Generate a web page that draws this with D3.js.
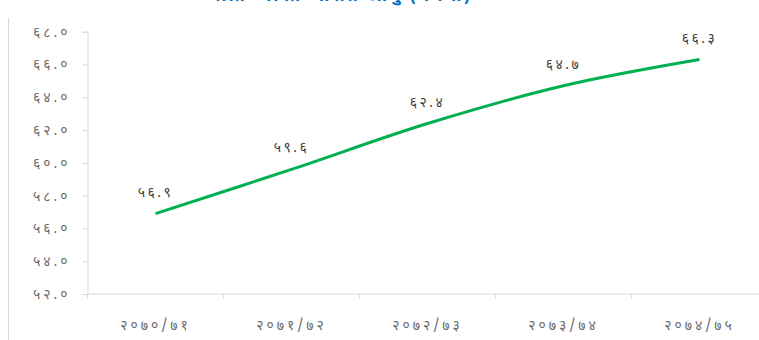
<!DOCTYPE html>
<html>
<head>
<meta charset="utf-8">
<script src="https://cdn.jsdelivr.net/npm/d3@7"></script>
<style>
  html, body { margin: 0; padding: 0; background: #ffffff; }
  svg { display: block; }
</style>
</head>
<body>
<svg id="chart" width="759" height="340"></svg>
<script>
// Fiscal years (Bikram Sambat) and the indicator value for each
const years = ["२०७०/७१", "२०७१/७२", "२०७२/७३", "२०७३/७४", "२०७४/७५"];
const values = [56.9, 59.6, 62.4, 64.7, 66.3];
const valueLabels = ["५६.९", "५९.६", "६२.४", "६४.७", "६६.३"];
const yTicks = [52, 54, 56, 58, 60, 62, 64, 66, 68];
const yTickLabels = ["५२.०", "५४.०", "५६.०", "५८.०", "६०.०", "६२.०", "६४.०", "६६.०", "६८.०"];
const title = "प्रति व्यक्ति औसत आयु (वर्षमा)";

const devFont = "'Noto Sans Devanagari', 'Lohit Devanagari', Mangal, 'Noto Sans', sans-serif";

const svg = d3.select("#chart");
const plotLeft = 87.5, plotTop = 31.7, plotBottom = 294;
const bandW = 136;

const x = d3.scaleBand().domain(years).range([plotLeft, plotLeft + bandW * years.length]).padding(0);
const y = d3.scaleLinear().domain([52, 68]).range([plotBottom, plotTop]);

// outer frame edge on the left
svg.append("line")
  .attr("x1", 8.5).attr("x2", 8.5).attr("y1", 18).attr("y2", 340)
  .attr("stroke", "#d9d9d9").attr("stroke-width", 1);

// title (runs off the top edge)
svg.append("text")
  .attr("x", 344).attr("y", 1)
  .attr("text-anchor", "middle")
  .attr("font-family", devFont)
  .attr("font-size", 18).attr("font-weight", "bold")
  .attr("letter-spacing", 2)
  .attr("fill", "#0070c0")
  .text(title);

// y axis
const yAxis = svg.append("g")
  .attr("transform", `translate(${plotLeft},0)`)
  .call(d3.axisLeft(y).tickValues(yTicks).tickSize(5).tickPadding(12)
    .tickFormat((d, i) => yTickLabels[i]));
yAxis.select(".domain").attr("stroke", "#d9d9d9");
yAxis.selectAll(".tick line").attr("stroke", "#d9d9d9");
yAxis.selectAll(".tick text")
  .attr("font-family", devFont).attr("font-size", 14)
  .attr("letter-spacing", 3).attr("fill", "#6a6a6a");

// x axis with ticks at category boundaries
const xAxisG = svg.append("g").attr("transform", `translate(0,${plotBottom})`);
xAxisG.append("line")
  .attr("x1", plotLeft).attr("x2", x.range()[1])
  .attr("stroke", "#d9d9d9");
xAxisG.selectAll("line.tick")
  .data(years.concat(["end"]))
  .join("line").attr("class", "tick")
  .attr("x1", (d, i) => plotLeft + i * x.bandwidth())
  .attr("x2", (d, i) => plotLeft + i * x.bandwidth())
  .attr("y1", 0).attr("y2", 5)
  .attr("stroke", "#d9d9d9");
xAxisG.selectAll("text")
  .data(years)
  .join("text")
  .attr("x", d => x(d) + x.bandwidth() / 2)
  .attr("y", 36)
  .attr("text-anchor", "middle")
  .attr("font-family", devFont).attr("font-size", 14)
  .attr("letter-spacing", 3).attr("fill", "#6a6a6a")
  .text(d => d);

// smoothed line
const pts = years.map((d, i) => [x(d) + x.bandwidth() / 2, y(values[i])]);
svg.append("path")
  .attr("d", d3.line().curve(d3.curveCatmullRom.alpha(0))(pts))
  .attr("fill", "none")
  .attr("stroke", "#00b050")
  .attr("stroke-width", 3);

// value labels
svg.selectAll("text.val")
  .data(values)
  .join("text").attr("class", "val")
  .attr("x", (d, i) => pts[i][0])
  .attr("y", d => y(d) - 17)
  .attr("text-anchor", "middle")
  .attr("font-family", devFont).attr("font-size", 14)
  .attr("letter-spacing", 2.5).attr("fill", "#404040")
  .text((d, i) => valueLabels[i]);
</script>
</body>
</html>
